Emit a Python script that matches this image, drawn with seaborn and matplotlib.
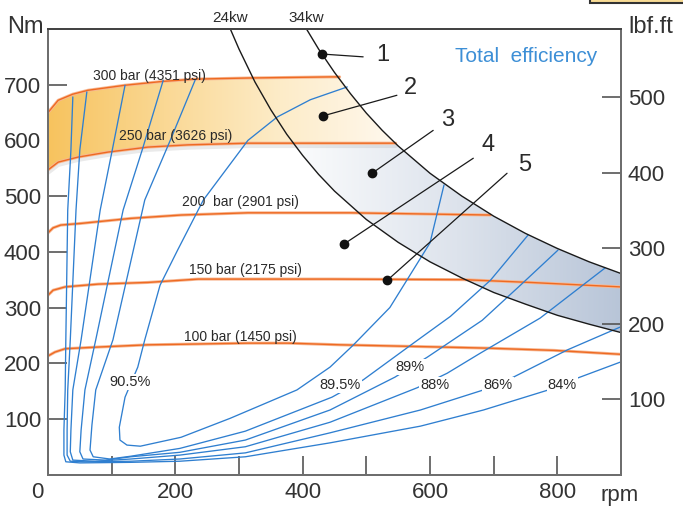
import numpy as np
import matplotlib
matplotlib.use('Agg')
import matplotlib.pyplot as plt
from matplotlib.colors import LinearSegmentedColormap
from matplotlib.path import Path
from matplotlib.patches import PathPatch, Rectangle
import seaborn as sns

sns.set_theme(style='white')
plt.rcParams['font.family'] = ['Liberation Sans', 'DejaVu Sans']

# --- power limit curves (rpm, Nm) ---
kw24_rpm = [286, 300, 325, 350, 375, 400, 425, 450, 500, 550, 600, 650, 700, 750, 800, 850, 900]
kw24_nm = [801, 764, 705, 655, 611, 573, 539, 509, 458, 417, 382, 353, 327, 306, 286, 270, 255]
kw34_rpm = [406, 425, 450, 475, 500, 525, 550, 600, 650, 700, 750, 800, 850, 900]
kw34_nm = [800, 764, 722, 684, 649, 618, 590, 541, 500, 464, 433, 406, 382, 361]

# --- pressure lines ---
p300_rpm = [0, 16, 39, 63, 121, 181, 231, 314, 443, 458]
p300_nm = [650, 672, 683, 690, 699, 706, 710, 712, 714, 714]
p250_rpm = [0, 16, 47, 94, 157, 220, 314, 546]
p250_nm = [547, 561, 570, 579, 588, 592, 595, 595]
p200_rpm = [0, 8, 20, 52, 130, 209, 314, 474, 695]
p200_nm = [434, 443, 448, 451, 460, 466, 470, 470, 466]
p150_rpm = [0, 8, 27, 79, 157, 236, 314, 443, 652, 757, 899]
p150_nm = [322, 331, 337, 342, 345, 351, 351, 351, 350, 345, 337]
p100_rpm = [0, 11, 27, 79, 157, 314, 377, 459, 617, 691, 795, 899]
p100_nm = [213, 220, 226, 229, 233, 236, 236, 233, 229, 227, 223, 216]

pressure_labels = ['300 bar (4351 psi)', '250 bar (3626 psi)', '200  bar (2901 psi)',
                   '150 bar (2175 psi)', '100 bar (1450 psi)']
pressure_label_rpm = [160, 200, 302, 310, 302]
pressure_label_nm = [716, 608, 489, 367, 247]

# --- total efficiency contours ---
e84_rpm = [39, 36, 31, 28, 27, 25, 25, 28, 50, 130, 207, 310, 443, 585, 684, 786, 831, 899]
e84_nm = [678, 583, 475, 242, 152, 80, 35, 23, 21, 22, 24, 32, 57, 87, 116, 152, 173, 202]
e86_rpm = [61, 50, 44, 35, 31, 30, 30, 35, 58, 130, 207, 310, 443, 585, 684, 731, 816, 899]
e86_nm = [687, 583, 475, 242, 152, 80, 35, 24, 23, 24, 28, 39, 75, 116, 152, 175, 224, 265]
e88_rpm = [121, 101, 82, 52, 39, 36, 35, 39, 74, 130, 207, 310, 443, 580, 627, 679, 773, 875]
e88_nm = [699, 583, 475, 242, 152, 80, 41, 26, 24, 28, 35, 50, 94, 156, 182, 218, 281, 371]
e89_rpm = [181, 148, 118, 75, 58, 52, 50, 55, 90, 130, 207, 310, 443, 545, 596, 682, 742, 801]
e89_nm = [708, 583, 475, 242, 152, 80, 41, 28, 26, 32, 40, 62, 116, 175, 211, 277, 340, 403]
e895_rpm = [231, 192, 152, 102, 75, 69, 66, 71, 97, 130, 207, 310, 446, 495, 574, 632, 695, 754]
e895_nm = [708, 600, 493, 242, 152, 89, 44, 32, 28, 33, 47, 78, 139, 170, 236, 284, 349, 430]
e905_rpm = [470, 412, 360, 314, 244, 204, 176, 152, 141, 121, 112, 113, 124, 145, 209, 286,
            391, 443, 479, 537, 600, 622]
e905_nm = [696, 673, 642, 600, 493, 404, 340, 242, 193, 139, 85, 62, 53, 51, 67, 101,
           152, 193, 232, 300, 416, 520]

eff_labels = ['90.5%', '89.5%', '89%', '88%', '86%', '84%']
eff_label_rpm = [129, 459, 569, 608, 707, 808]
eff_label_nm = [166, 161, 193, 161, 161, 161]

# --- numbered callouts: dot, line end, label ---
call_labels = ['1', '2', '3', '4', '5']
call_dot_rpm = [431, 432, 509, 465, 533]
call_dot_nm = [755, 644, 541, 414, 349]
call_end_rpm = [495, 548, 605, 668, 721]
call_end_nm = [750, 681, 618, 568, 541]
call_txt_rpm = [526, 569, 627, 691, 749]
call_txt_nm = [753, 694, 636, 592, 555]

lbf_ticks = [100, 200, 300, 400, 500]
NM_PER_LBF = 1.35582

W, H = 683, 509
fig = plt.figure(figsize=(W / 100, H / 100), dpi=100)
ax = fig.add_axes([48 / W, 1 - 474.6 / H, (621 - 48) / W, (474.6 - 29) / H])

ORANGE = '#ee6a22'
BLUE = '#2f7fd0'
GREY = '#6e6e6e'
TXT = '#2a2a2a'


def line(x, y, **kw):
    sns.lineplot(x=x, y=y, sort=False, estimator=None, ax=ax, **kw)


def gradient_fill(xs, ys, colors, x0, x1):
    patch = PathPatch(Path(np.column_stack([xs, ys])), fc='none', ec='none')
    ax.add_patch(patch)
    cmap = LinearSegmentedColormap.from_list('g', colors)
    grad = np.linspace(0, 1, 256).reshape(1, -1)
    im = ax.imshow(grad, extent=[x0, x1, 0, 800], aspect='auto', cmap=cmap,
                   origin='lower', zorder=1, interpolation='bilinear')
    im.set_clip_path(patch)


# orange band between 300 and 250 bar, left of the 34 kW line
k34r, k34t = np.array(kw34_rpm), np.array(kw34_nm)
k24r, k24t = np.array(kw24_rpm), np.array(kw24_nm)
mid = (k34t < p300_nm[-1]) & (k34t > p250_nm[-1])
band_x = list(p300_rpm) + list(k34r[mid]) + list(p250_rpm[::-1])
band_y = list(p300_nm) + list(k34t[mid]) + list(p250_nm[::-1])
gradient_fill(band_x, band_y, ['#f7c35e', '#fad894', '#fdecc8', '#fff8ee'], 0, 546)

# blue-grey band between 24 kW and 34 kW below 250 bar
low34 = k34t < p250_nm[-1]
low24 = k24t < p250_nm[-1]
x24 = np.interp(p250_nm[-1], k24t[::-1], k24r[::-1])
blue_x = [p250_rpm[-1]] + list(k34r[low34]) + list(k24r[low24][::-1]) + [x24]
blue_y = [p250_nm[-1]] + list(k34t[low34]) + list(k24t[low24][::-1]) + [p250_nm[-1]]
gradient_fill(blue_x, blue_y, ['#fbfcfd', '#dde3ec', '#b8c5d8'], 385, 900)

# soft shadow under the 250 bar line
line(p250_rpm, np.array(p250_nm) - 5, color='#999999', lw=3, alpha=0.2, zorder=2)

# pressure lines
for r, t in [(p300_rpm, p300_nm), (p250_rpm, p250_nm), (p200_rpm, p200_nm),
             (p150_rpm, p150_nm), (p100_rpm, p100_nm)]:
    line(r, t, color='#f7b894', lw=2.2, zorder=3)
    line(r, t, color=ORANGE, lw=1.0, zorder=3)

for lab, r, t in zip(pressure_labels, pressure_label_rpm, pressure_label_nm):
    ax.text(r, t, lab, ha='center', va='center', fontsize=10, color=TXT, zorder=6)

# efficiency contours
for r, t in [(e84_rpm, e84_nm), (e86_rpm, e86_nm), (e88_rpm, e88_nm),
             (e89_rpm, e89_nm), (e895_rpm, e895_nm), (e905_rpm, e905_nm)]:
    line(r, t, color=BLUE, lw=0.95, zorder=4)

for lab, r, t in zip(eff_labels, eff_label_rpm, eff_label_nm):
    ax.text(r, t, lab, ha='center', va='center', fontsize=10.5, color=TXT, zorder=6,
            bbox=dict(fc='white', ec='none', pad=0.8))

# power curves
line(kw24_rpm, kw24_nm, color='#1a1a1a', lw=1.0, zorder=5)
line(kw34_rpm, kw34_nm, color='#1a1a1a', lw=1.0, zorder=5)
ax.annotate('24kw', xy=(kw24_rpm[0], 800), xytext=(0, 11), textcoords='offset pixels',
            ha='center', va='center', fontsize=11, color=TXT, annotation_clip=False)
ax.annotate('34kw', xy=(kw34_rpm[0], 800), xytext=(0, 11), textcoords='offset pixels',
            ha='center', va='center', fontsize=11, color=TXT, annotation_clip=False)

# numbered callouts
for i in range(len(call_labels)):
    ax.plot([call_dot_rpm[i], call_end_rpm[i]], [call_dot_nm[i], call_end_nm[i]],
            color='#1a1a1a', lw=0.9, zorder=7)
    ax.plot(call_dot_rpm[i], call_dot_nm[i], 'o', color='#111111', ms=6, zorder=8)
    ax.text(call_txt_rpm[i], call_txt_nm[i], call_labels[i], ha='center', va='center',
            fontsize=17, color=TXT, zorder=8)

ax.text(751, 750, 'Total  efficiency', ha='center', va='center', fontsize=15,
        color='#3d8fd6', zorder=8)

# axes
ax.set_xlim(0, 900)
ax.set_ylim(0, 800)
ax.set_xlabel('')
ax.set_ylabel('')
ax.set_xticks([200, 400, 600, 800])
ax.set_xticks([100, 300, 500, 700], minor=True)
ax.set_yticks([100, 200, 300, 400, 500, 600, 700])
ax.tick_params(axis='both', which='both', direction='in', length=14, width=1.2,
               color='#555555', labelsize=16, labelcolor='#333333', pad=5)
ax.tick_params(axis='x', which='minor', bottom=True)
ax.tick_params(axis='y', left=True, right=False)
ax.tick_params(axis='x', bottom=True, top=False)

ax2 = ax.twinx()
ax2.set_ylim(0, 800 / NM_PER_LBF)
ax2.set_yticks(lbf_ticks)
ax2.tick_params(axis='y', direction='in', length=14, width=1.2, color='#555555',
                labelsize=16, labelcolor='#333333', pad=5)
ax2.grid(False)
ax.grid(False)
for a in (ax, ax2):
    for s in a.spines.values():
        s.set_color(GREY)
        s.set_linewidth(1.4)
    a.spines['top'].set_color('#444444')

fig.text(25 / W, 1 - 27 / H, 'Nm', ha='center', va='center', fontsize=17, color='#333333')
fig.text(651 / W, 1 - 27 / H, 'lbf.ft', ha='center', va='center', fontsize=17, color='#333333')
fig.text(620 / W, 1 - 495 / H, 'rpm', ha='center', va='center', fontsize=16, color='#333333')
fig.text(37 / W, 1 - 493 / H, '0', ha='center', va='center', fontsize=16, color='#333333')

fig.patches.append(Rectangle((590 / W, 1 - 3 / H), 0.2, 0.05, transform=fig.transFigure,
                             fc='#f9dc95', ec='#333333', lw=1.5, clip_on=False))

fig.savefig('out.png', dpi=100)
